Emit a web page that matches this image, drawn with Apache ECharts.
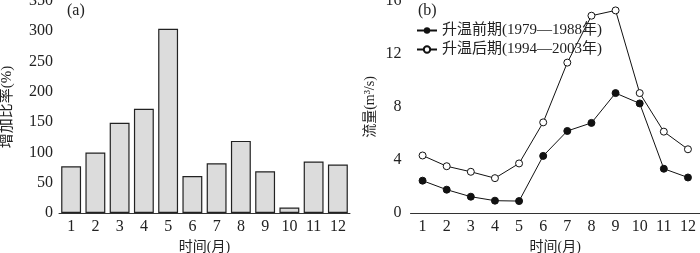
<!DOCTYPE html>
<html><head><meta charset="utf-8">
<script src="https://cdn.jsdelivr.net/npm/echarts@6/dist/echarts.min.js"></script>
</head>
<body style="margin:0;background:#fff">
<div id="c" style="width:700px;height:253px"></div>
<script>
const months = ['1','2','3','4','5','6','7','8','9','10','11','12'];
const increaseRate = [77, 100, 149, 172, 304, 61, 82, 119, 69, 9, 85, 80];
const preWarming = [2.44, 1.76, 1.23, 0.93, 0.9, 4.31, 6.19, 6.8, 9.05, 8.27, 3.34, 2.68];
const postWarming = [4.34, 3.53, 3.11, 2.63, 3.74, 6.84, 11.35, 14.89, 15.29, 9.05, 6.14, 4.81];
const preName = '升温前期(1979—1988年)';
const postName = '升温后期(1994—2003年)';

const FONT = "'Liberation Serif', 'Noto Sans CJK SC', serif";
const axisCommon = {
  axisLine: {lineStyle: {color: '#333', width: 1}},
  axisTick: {inside: true, length: 4, lineStyle: {color: '#333'}},
  axisLabel: {color: '#222', fontFamily: FONT, fontSize: 16},
  splitLine: {show: false},
  nameTextStyle: {color: '#222', fontFamily: FONT, fontSize: 14}
};
function xAxis(idx) {
  return Object.assign({}, axisCommon, {
    type: 'category', gridIndex: idx, data: months,
    axisTick: {inside: true, length: 4, alignWithLabel: true, lineStyle: {color: '#333'}},
    axisLabel: Object.assign({}, axisCommon.axisLabel, {margin: 6, interval: 0}),
    name: '时间(月)', nameLocation: 'middle', nameGap: 27
  });
}
const chart = echarts.init(document.getElementById('c'));
chart.setOption({
  animation: false,
  grid: [
    {left: 59, top: 1, width: 291, height: 212, outerBoundsMode: 'none', containLabel: false},
    {left: 410.5, top: 1, width: 289.5, height: 212, outerBoundsMode: 'none', containLabel: false}
  ],
  xAxis: [xAxis(0), xAxis(1)],
  yAxis: [
    Object.assign({}, axisCommon, {
      type: 'value', gridIndex: 0, min: 0, max: 350, interval: 50,
      axisLabel: Object.assign({}, axisCommon.axisLabel, {margin: 6}),
      name: '增加比率(%)', nameLocation: 'middle', nameGap: 44,
      nameTextStyle: {color: '#222', fontFamily: FONT, fontSize: 15}
    }),
    Object.assign({}, axisCommon, {
      type: 'value', gridIndex: 1, min: 0, max: 16, interval: 4,
      axisLabel: Object.assign({}, axisCommon.axisLabel, {margin: 9}),
      name: '流量(m³/s)', nameLocation: 'middle', nameGap: 33,
      nameTextStyle: {color: '#222', fontFamily: FONT, fontSize: 14}
    })
  ],
  legend: {
    left: 411, top: 18, orient: 'vertical', itemGap: 4,
    itemWidth: 20, itemHeight: 8,
    textStyle: {fontFamily: FONT, fontSize: 15, color: '#222'},
    data: [preName, postName]
  },
  graphic: [
    {type: 'text', left: 67, top: 3, style: {text: '(a)', font: "16px 'Liberation Serif'", fill: '#222'}},
    {type: 'text', left: 418, top: 3, style: {text: '(b)', font: "16px 'Liberation Serif'", fill: '#222'}}
  ],
  series: [
    {
      type: 'bar', xAxisIndex: 0, yAxisIndex: 0, data: increaseRate,
      barWidth: '82%',
      itemStyle: {color: '#dcdcdc', borderColor: '#222', borderWidth: 1.2}
    },
    {
      name: preName, type: 'line', xAxisIndex: 1, yAxisIndex: 1, data: preWarming,
      symbol: 'circle', symbolSize: 7,
      lineStyle: {color: '#111', width: 1},
      itemStyle: {color: '#111', borderColor: '#111'}
    },
    {
      name: postName, type: 'line', xAxisIndex: 1, yAxisIndex: 1, data: postWarming,
      symbol: 'circle', symbolSize: 7,
      lineStyle: {color: '#111', width: 1},
      itemStyle: {color: '#fff', borderColor: '#111', borderWidth: 1}
    }
  ]
});
</script>
</body></html>
